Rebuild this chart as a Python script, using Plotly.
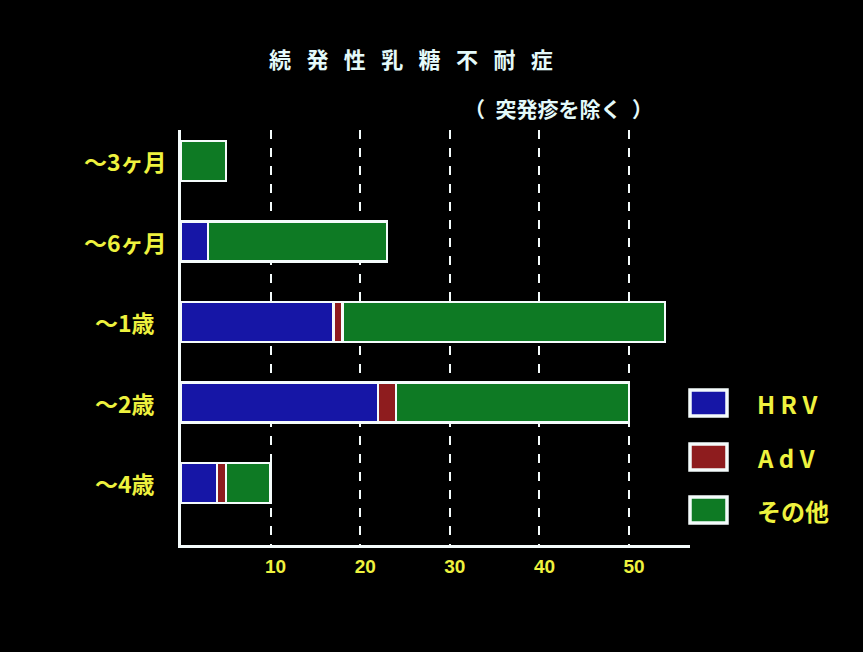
import plotly.graph_objects as go

# Age groups (top to bottom) and case counts per cause
categories = ["〜3ヶ月", "〜6ヶ月", "〜1歳", "〜2歳", "〜4歳"]
hrv = [0, 3, 17, 22, 4]
adv = [0, 0, 1, 2, 1]
other = [5, 20, 36, 26, 5]

series_names = ["H R V", "A d V", "その他"]
series_colors = ["#1616a6", "#8e1c1e", "#0e7a24"]
x_ticks = [10, 20, 30, 40, 50]

title_text = "続発性乳糖不耐症"
subtitle_text = "（\u2002突発疹を除く\u2002）"

YELLOW = "#eef23e"
WHITE = "#f4fbfb"
JP = "Noto Sans CJK JP"

fig = go.Figure()
for name, vals, col in zip(series_names, [hrv, adv, other], series_colors):
    fig.add_trace(go.Bar(
        y=categories,
        x=[v if v else None for v in vals],
        orientation="h",
        name=name,
        marker=dict(color=col, line=dict(color=WHITE, width=2.5)),
        width=0.5,
        showlegend=False,
    ))

# Category labels, centred to the left of the axis
for c in categories:
    fig.add_annotation(
        x=-0.11, xref="paper", y=c, yref="y",
        text=f"<b>{c}</b>", showarrow=False, xanchor="center", yanchor="middle",
        font=dict(family=JP, size=23, color=YELLOW),
    )

# Custom legend with wide swatches
leg_y = [403, 457, 510]
for name, col, yc in zip(series_names, series_colors, leg_y):
    fig.add_shape(
        type="rect", xref="paper", yref="paper",
        x0=(690 - 181) / 509, x1=(727 - 181) / 509,
        y0=(545 - (yc + 13)) / 415, y1=(545 - (yc - 13)) / 415,
        fillcolor=col, line=dict(color=WHITE, width=3.5),
    )
    fig.add_annotation(
        xref="paper", yref="paper",
        x=(755 - 181) / 509, y=(545 - yc) / 415,
        text=f"<b>{name}</b>", showarrow=False, xanchor="left", yanchor="middle",
        font=dict(family=JP, size=24, color=YELLOW),
    )

# Title and subtitle
fig.add_annotation(
    xref="paper", yref="paper", x=(411 - 181) / 509, y=(545 - 58) / 415,
    text="<b>" + "\u2002\u2009".join(title_text) + "</b>",
    showarrow=False, xanchor="center", yanchor="middle",
    font=dict(family=JP, size=22, color="#e4fafa"),
)
fig.add_annotation(
    xref="paper", yref="paper", x=(558 - 181) / 509, y=(545 - 108) / 415,
    text=f"<b>{subtitle_text}</b>",
    showarrow=False, xanchor="center", yanchor="middle",
    font=dict(family=JP, size=21, color="#e4fafa"),
)

fig.update_layout(
    barmode="stack",
    width=863, height=652,
    margin=dict(l=181, r=173, t=130, b=107),
    paper_bgcolor="black", plot_bgcolor="black",
    xaxis=dict(
        range=[0, 56.8], tickvals=x_ticks,
        ticktext=[f"<b>{t}</b>" for t in x_ticks],
        showgrid=True, gridcolor=WHITE, gridwidth=2, griddash="dash",
        zeroline=False, showline=True, linecolor=WHITE, linewidth=3,
        ticks="", ticklabelshift=5, ticklabelstandoff=2,
        tickfont=dict(family="Liberation Sans Narrow, Liberation Sans", size=19, color=YELLOW),
    ),
    yaxis=dict(
        range=[4.77, -0.385], showgrid=False, zeroline=False,
        showline=True, linecolor=WHITE, linewidth=3,
        showticklabels=False, ticks="",
    ),
)

fig.write_html("out.html")
